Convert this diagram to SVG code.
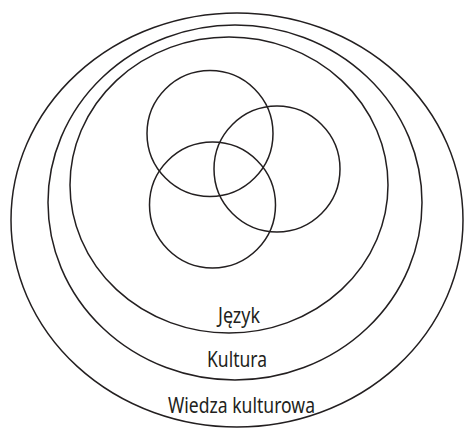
<svg xmlns="http://www.w3.org/2000/svg" width="464" height="429" viewBox="0 0 464 429">
<style>
.s{fill:none;stroke:#231f20;stroke-width:1.5}
.t{font-family:"Noto Sans","Liberation Sans",sans-serif;font-size:22.5px;fill:#231f20;text-anchor:middle}
</style>
<rect width="464" height="429" fill="#fff"/>
<g id="wiedza">
<ellipse class="s" cx="237" cy="220" rx="226" ry="207"/>
<text class="t" x="241.5" y="413" textLength="147" lengthAdjust="spacingAndGlyphs">Wiedza kulturowa</text>
</g>
<g id="kultura">
<ellipse class="s" cx="235" cy="202.5" rx="187" ry="177.5"/>
<text class="t" x="237" y="366.5" textLength="60" lengthAdjust="spacingAndGlyphs">Kultura</text>
</g>
<g id="jezyk">
<ellipse class="s" cx="229" cy="185" rx="159" ry="148"/>
<text class="t" x="239" y="322.5" textLength="42" lengthAdjust="spacingAndGlyphs">Język</text>
</g>
<g id="circle1"><circle class="s" cx="210" cy="133.5" r="63"/></g>
<g id="circle2"><circle class="s" cx="277" cy="169" r="63"/></g>
<g id="circle3"><circle class="s" cx="212.5" cy="205" r="63"/></g>
<g id="connectors"/>
</svg>
